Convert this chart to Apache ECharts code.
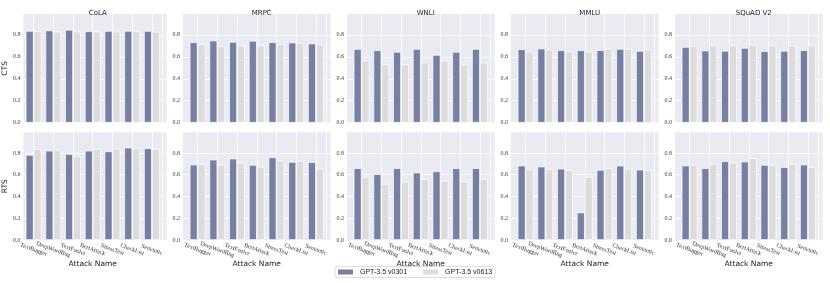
<!DOCTYPE html>
<html><head><meta charset="utf-8">
<script src="https://cdn.jsdelivr.net/npm/echarts@6/dist/echarts.min.js"></script>
<style>html,body{margin:0;padding:0;background:#fff}#c{width:830px;height:283px}</style>
</head><body><div id="c"></div>
<script>
// ---------- data ----------
const categories = ['TextBugger','DeepWordBug','TextFooler','BertAttack','StressTest','CheckList','Semantic'];
const tasks = ['CoLA','MRPC','WNLI','MMLU','SQuAD V2'];
const seriesNames = ['GPT-3.5 v0301','GPT-3.5 v0613'];
const rowNames = ['CTS','RTS'];
const yTicks = [0.0, 0.2, 0.4, 0.6, 0.8];

// CTS
const ctsCoLA0301 = [0.836, 0.840, 0.846, 0.833, 0.836, 0.836, 0.836];
const ctsCoLA0613 = [0.836, 0.830, 0.830, 0.830, 0.830, 0.836, 0.830];
const ctsMRPC0301 = [0.733, 0.748, 0.736, 0.745, 0.733, 0.730, 0.721];
const ctsMRPC0613 = [0.715, 0.694, 0.703, 0.703, 0.715, 0.724, 0.712];
const ctsWNLI0301 = [0.672, 0.660, 0.645, 0.672, 0.617, 0.645, 0.672];
const ctsWNLI0613 = [0.566, 0.529, 0.529, 0.548, 0.566, 0.529, 0.548];
const ctsMMLU0301 = [0.669, 0.675, 0.660, 0.660, 0.660, 0.672, 0.654];
const ctsMMLU0613 = [0.648, 0.663, 0.648, 0.648, 0.672, 0.672, 0.666];
const ctsSQuAD0301 = [0.690, 0.657, 0.654, 0.681, 0.651, 0.654, 0.660];
const ctsSQuAD0613 = [0.700, 0.703, 0.703, 0.712, 0.703, 0.703, 0.703];
// RTS
const rtsCoLA0301 = [0.782, 0.821, 0.791, 0.821, 0.815, 0.849, 0.843];
const rtsCoLA0613 = [0.837, 0.824, 0.773, 0.837, 0.837, 0.843, 0.837];
const rtsMRPC0301 = [0.693, 0.739, 0.748, 0.690, 0.760, 0.718, 0.715];
const rtsMRPC0613 = [0.699, 0.690, 0.708, 0.672, 0.727, 0.727, 0.653];
const rtsWNLI0301 = [0.660, 0.605, 0.660, 0.620, 0.632, 0.660, 0.660];
const rtsWNLI0613 = [0.577, 0.516, 0.534, 0.559, 0.544, 0.534, 0.559];
const rtsMMLU0301 = [0.684, 0.675, 0.656, 0.253, 0.644, 0.684, 0.647];
const rtsMMLU0613 = [0.650, 0.650, 0.644, 0.580, 0.660, 0.650, 0.641];
const rtsSQuAD0301 = [0.684, 0.660, 0.724, 0.721, 0.690, 0.669, 0.693];
const rtsSQuAD0613 = [0.690, 0.699, 0.708, 0.751, 0.690, 0.699, 0.669];

const rowData = [
  [[ctsCoLA0301, ctsCoLA0613],[ctsMRPC0301, ctsMRPC0613],[ctsWNLI0301, ctsWNLI0613],[ctsMMLU0301, ctsMMLU0613],[ctsSQuAD0301, ctsSQuAD0613]],
  [[rtsCoLA0301, rtsCoLA0613],[rtsMRPC0301, rtsMRPC0613],[rtsWNLI0301, rtsWNLI0613],[rtsMMLU0301, rtsMMLU0613],[rtsSQuAD0301, rtsSQuAD0613]]
];

// ---------- layout / style ----------
const COLORS = ['#7580A2', '#DCDCDC'];
const L0 = 19, STEP = 164, W = 147.5, INSET = 4.73;
const ROWS = [{top: 14, h: 108.7}, {top: 132.3, h: 107.7}];
const YMAX = 0.99;
const serif = 'Liberation Serif';
const sans = 'DejaVu Sans';
const splitIdx = categories.flatMap(c => [c + '_a', c + '_b']);

const grid = [], xAxis = [], yAxis = [], series = [], title = [];

ROWS.forEach((r, ri) => {
  tasks.forEach((t, ti) => {
    const left = L0 + ti * STEP;
    const gBg = grid.length;
    grid.push({left: left, top: r.top, width: W, height: r.h, show: true,
      backgroundColor: '#EAEAF2', borderWidth: 0});
    xAxis.push({type: 'category', gridIndex: gBg, show: false, data: categories});
    yAxis.push({type: 'value', gridIndex: gBg, min: 0, max: YMAX, interval: 0.2,
      axisLine: {show: false}, axisTick: {show: false},
      splitLine: {show: true, showMaxLine: false, lineStyle: {color: '#ffffff', width: 0.8}},
      axisLabel: {showMaxLabel: false, fontSize: 6, color: '#444', margin: 3, fontFamily: serif,
        formatter: v => yTicks.some(k => Math.abs(k - v) < 1e-6) ? v.toFixed(1) : ''},
      name: ti === 0 ? rowNames[ri] : '', nameLocation: 'middle', nameGap: 12,
      nameTextStyle: {fontSize: 7.5, color: '#222', fontFamily: sans}
    });
    const gB = grid.length;
    grid.push({left: left + INSET, top: r.top, width: W - 2 * INSET, height: r.h});
    const xMain = xAxis.length;
    xAxis.push({type: 'category', gridIndex: gB, data: categories, position: 'bottom',
      axisLine: {show: false}, axisTick: {show: false}, splitLine: {show: false},
      axisLabel: ri === 1 ? {show: true, interval: 0, rotate: -20, align: 'center', verticalAlign: 'middle',
        margin: 9.5, fontSize: 6, color: '#333', fontFamily: serif} : {show: false},
      name: ri === 1 ? 'Attack Name' : '', nameLocation: 'middle', nameGap: 18,
      nameTextStyle: {fontSize: 7.5, color: '#222', fontFamily: sans}
    });
    xAxis.push({type: 'category', gridIndex: gB, data: splitIdx, position: 'top',
      axisLine: {show: false}, axisTick: {show: false}, axisLabel: {show: false},
      splitLine: {show: true, interval: (i) => i % 2 === 1, lineStyle: {color: '#ffffff', width: 0.8}}
    });
    const yB = yAxis.length;
    yAxis.push({type: 'value', gridIndex: gB, min: 0, max: YMAX, show: false, splitLine: {show: false}});
    rowData[ri][ti].forEach((arr, si) => {
      series.push({type: 'bar', name: seriesNames[si], xAxisIndex: xMain, yAxisIndex: yB,
        data: arr, barGap: '0%', barCategoryGap: '20%', z: 3,
        itemStyle: {color: COLORS[si], borderColor: '#ffffff', borderWidth: 0.7},
        emphasis: {disabled: true}, animation: false});
    });
    if (ri === 0) {
      title.push({text: t, left: left + W / 2, top: 4.5, textAlign: 'center',
        textStyle: {fontSize: 7, fontWeight: 'normal', color: '#222', fontFamily: sans}});
    }
  });
});

const chart = echarts.init(document.getElementById('c'));
chart.setOption({
  animation: false,
  title: title,
  grid: grid, xAxis: xAxis, yAxis: yAxis, series: series,
  legend: {data: seriesNames, left: 335, top: 266.5, orient: 'horizontal',
    itemWidth: 15, itemHeight: 5, itemGap: 16, padding: [2, 3, 2, 3],
    backgroundColor: '#ffffff', borderColor: '#d6d6d6', borderWidth: 0.8, borderRadius: 2,
    icon: 'rect', itemStyle: {borderWidth: 0},
    textStyle: {fontSize: 7, color: '#222', fontFamily: 'Liberation Sans', padding: [0, 0, 0, 2]}}
});
</script></body></html>
